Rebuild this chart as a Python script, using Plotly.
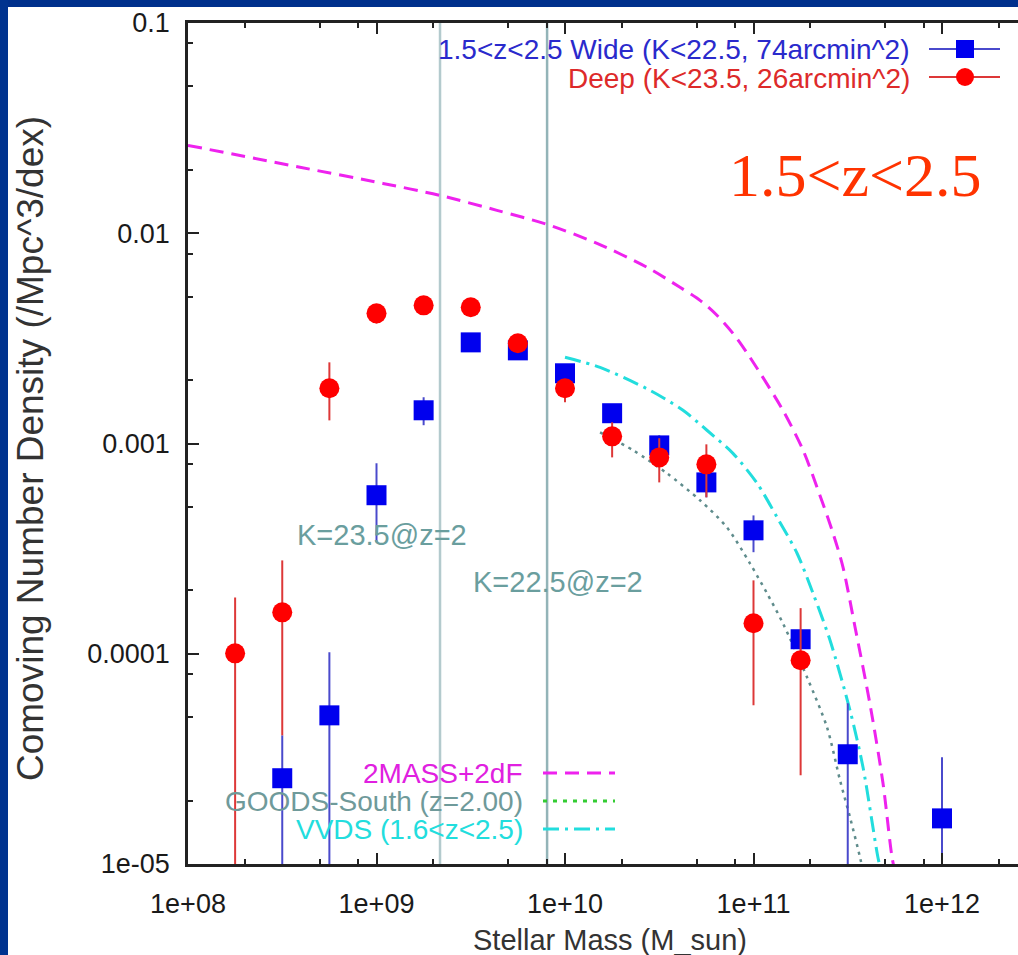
import plotly.graph_objects as go

# ---------------- data (log10 values) ----------------
wide_logm = [8.5, 8.75, 9.0, 9.25, 9.5, 9.75, 10.0, 10.25, 10.5, 10.75, 11.0, 11.25, 11.5, 12.0]
wide_logphi = [-4.592, -4.293, -3.246, -2.842, -2.519, -2.557, -2.666, -2.856, -3.009, -3.185,
               -3.413, -3.931, -4.478, -4.783]
wide_up = [-4.388, -3.993, -3.094, -2.780, -2.500, -2.535, -2.645, -2.830, -2.961, -3.142,
           -3.342, -3.890, -4.236, -4.492]
wide_lo = [-5.6, -5.6, -3.470, -2.913, -2.540, -2.580, -2.690, -2.885, -3.060, -3.256,
           -3.517, -3.980, -5.6, -5.6]

deep_logm = [8.25, 8.5, 8.75, 9.0, 9.25, 9.5, 9.75, 10.0, 10.25, 10.5, 10.75, 11.0, 11.25]
deep_logphi = [-3.998, -3.803, -2.737, -2.381, -2.343, -2.352, -2.523, -2.737, -2.966, -3.066,
               -3.099, -3.855, -4.031]
deep_up = [-3.732, -3.556, -2.614, -2.343, -2.323, -2.332, -2.495, -2.700, -2.899, -2.975,
           -3.004, -3.651, -3.783]
deep_lo = [-5.6, -4.388, -2.890, -2.430, -2.363, -2.372, -2.553, -2.804, -3.066, -3.185,
           -3.256, -4.245, -4.578]

mass2dF_logm = [8.0, 8.594, 9.034, 9.337, 9.639, 9.905, 10.170, 10.435, 10.610, 10.716, 10.806,
                10.891, 10.981, 11.156, 11.263, 11.337, 11.422, 11.475, 11.538, 11.618, 11.687,
                11.735, 11.761]
mass2dF_logphi = [-1.582, -1.686, -1.763, -1.820, -1.891, -1.958, -2.048, -2.162, -2.257, -2.319,
                  -2.390, -2.476, -2.590, -2.842, -3.032, -3.208, -3.427, -3.589, -3.870, -4.240,
                  -4.616, -4.968, -5.080]

vvds_logm = [10.0, 10.186, 10.451, 10.626, 10.753, 10.891, 11.019, 11.125, 11.231, 11.316, 11.406,
             11.512, 11.581, 11.660, 11.682]
vvds_logphi = [-2.590, -2.638, -2.747, -2.842, -2.937, -3.047, -3.189, -3.351, -3.522, -3.713,
               -3.936, -4.269, -4.540, -4.968, -5.054]

goods_logm = [10.186, 10.361, 10.541, 10.716, 10.859, 10.981, 11.072, 11.156, 11.284, 11.390,
              11.459, 11.512, 11.565, 11.586]
goods_logphi = [-2.947, -3.032, -3.142, -3.270, -3.399, -3.570, -3.713, -3.855, -4.112, -4.350,
                -4.602, -4.778, -4.968, -5.054]

klimit_logm = [9.337, 9.905]          # K=23.5@z=2 , K=22.5@z=2
klimit_labels = ["K=23.5@z=2", "K=22.5@z=2"]

xtick_vals = [1e8, 1e9, 1e10, 1e11, 1e12]
xtick_text = ["1e+08", "1e+09", "1e+10", "1e+11", "1e+12"]
ytick_vals = [1e-5, 1e-4, 1e-3, 1e-2, 1e-1]
ytick_text = ["1e-05", "0.0001", "0.001", "0.01", "0.1"]


def lin(v):
    return [10 ** a for a in v]


SANS = "Liberation Sans, Arial, sans-serif"
SERIF = "Liberation Serif, Times New Roman, serif"

# figure geometry (pixels)
W, H = 1018, 955
ML, MR, MT, MB = 188, 0, 23, 91
PW, PH = W - ML - MR, H - MT - MB


def px(x):
    return (x - ML) / PW


def py(y):
    return (H - MB - y) / PH


fig = go.Figure()

# vertical completeness limits
for lm, col in zip(klimit_logm, ["#b3cacd", "#93b4b8"]):
    fig.add_trace(go.Scatter(x=[10 ** lm, 10 ** lm], y=[1e-5, 1e-1], mode="lines",
                             line=dict(color=col, width=2.5), showlegend=False, hoverinfo="skip"))

# model curves
fig.add_trace(go.Scatter(x=lin(mass2dF_logm), y=lin(mass2dF_logphi), mode="lines",
                         line=dict(color="#ee22ee", width=3, dash="14px,8px",
                                   shape="spline", smoothing=0.8), showlegend=False))
fig.add_trace(go.Scatter(x=lin(goods_logm), y=lin(goods_logphi), mode="lines",
                         line=dict(color="#5f8c8c", width=2.5, dash="3px,5px",
                                   shape="spline", smoothing=0.8), showlegend=False))
fig.add_trace(go.Scatter(x=lin(vvds_logm), y=lin(vvds_logphi), mode="lines",
                         line=dict(color="#22dddd", width=3, dash="16px,6px,3px,6px",
                                   shape="spline", smoothing=0.8), showlegend=False))

# data points
wy = lin(wide_logphi)
fig.add_trace(go.Scatter(
    x=lin(wide_logm), y=wy, mode="markers",
    marker=dict(symbol="square", size=20, color="#0000ee"),
    error_y=dict(type="data", symmetric=False,
                 array=[10 ** u - v for u, v in zip(wide_up, wy)],
                 arrayminus=[v - 10 ** l for l, v in zip(wide_lo, wy)],
                 color="#4a4acc", thickness=2, width=0),
    showlegend=False))
dy = lin(deep_logphi)
fig.add_trace(go.Scatter(
    x=lin(deep_logm), y=dy, mode="markers",
    marker=dict(symbol="circle", size=20, color="#ff0000"),
    error_y=dict(type="data", symmetric=False,
                 array=[10 ** u - v for u, v in zip(deep_up, dy)],
                 arrayminus=[v - 10 ** l for l, v in zip(deep_lo, dy)],
                 color="#dd3838", thickness=2, width=0),
    showlegend=False))

minor_x = [m * 10 ** e for e in range(8, 13) for m in (2, 5, 8)]
minor_y = [m * 10 ** e for e in range(-5, -1) for m in (2, 5, 8)]

axis_common = dict(type="log", showline=True, linecolor="#222222", linewidth=2.5,
                   ticks="inside", ticklen=11, tickwidth=2, tickcolor="#222222",
                   showgrid=False, zeroline=False,
                   tickfont=dict(family=SANS, size=27, color="#1a1a1a"))

fig.update_xaxes(**axis_common, range=[8, 8 + PW / 188.5], mirror="ticks",
                 tickvals=xtick_vals, ticktext=xtick_text, ticklabelstandoff=14,
                 minor=dict(tickvals=minor_x, ticks="inside", ticklen=5, tickwidth=2,
                            tickcolor="#222222"))
fig.update_yaxes(**axis_common, range=[-5, -1], mirror=False,
                 tickvals=ytick_vals, ticktext=ytick_text, ticklabelstandoff=10,
                 minor=dict(tickvals=minor_y, ticks="inside", ticklen=5, tickwidth=2,
                            tickcolor="#222222"))

ann = []
# axis titles
ann.append(dict(text="Stellar Mass (M_sun)", xref="paper", yref="paper", x=px(610), y=py(940),
                xanchor="center", yanchor="middle", showarrow=False,
                font=dict(family=SANS, size=29, color="#333333")))
ann.append(dict(text="Comoving Number Density (/Mpc^3/dex)", xref="paper", yref="paper",
                x=px(30), y=py(449), textangle=-90, xanchor="center", yanchor="middle",
                showarrow=False, font=dict(family=SANS, size=37, color="#333333")))
# limit labels
ann.append(dict(text=klimit_labels[0], xref="x", yref="y", x=9.029, y=-3.437, showarrow=False,
                xanchor="center", yanchor="middle", font=dict(family=SANS, size=29, color="#6a9e9e")))
ann.append(dict(text=klimit_labels[1], xref="x", yref="y", x=9.963, y=-3.660, showarrow=False,
                xanchor="center", yanchor="middle", font=dict(family=SANS, size=29, color="#6a9e9e")))
# big redshift label
ann.append(dict(text="1.5&lt;z&lt;2.5", xref="paper", yref="paper", x=px(855), y=py(175),
                xanchor="center", yanchor="middle", showarrow=False,
                font=dict(family=SERIF, size=62, color="#ff3300")))
# legend texts
leg_top = [("1.5&lt;z&lt;2.5 Wide (K&lt;22.5, 74arcmin^2)", "#2a2acc", 50),
           ("Deep (K&lt;23.5, 26arcmin^2)", "#dd2a2a", 78)]
for t, c, yy in leg_top:
    ann.append(dict(text=t, xref="paper", yref="paper", x=px(912), y=py(yy), xanchor="right",
                    yanchor="middle", showarrow=False, font=dict(family=SANS, size=28, color=c)))
leg_bot = [("2MASS+2dF", "#e020e0", 773), ("GOODS-South (z=2.00)", "#6f9a9a", 801),
           ("VVDS (1.6&lt;z&lt;2.5)", "#22dddd", 829)]
for t, c, yy in leg_bot:
    ann.append(dict(text=t, xref="paper", yref="paper", x=px(525), y=py(yy), xanchor="right",
                    yanchor="middle", showarrow=False, font=dict(family=SANS, size=28, color=c)))

shapes = []
# legend samples (top right)
shapes.append(dict(type="line", xref="paper", yref="paper", x0=px(929), x1=px(1000), y0=py(49), y1=py(49),
                   line=dict(color="#4a4acc", width=2)))
shapes.append(dict(type="rect", xref="paper", yref="paper", x0=px(956), x1=px(974), y0=py(58), y1=py(40),
                   fillcolor="#0000ee", line=dict(width=0)))
shapes.append(dict(type="line", xref="paper", yref="paper", x0=px(929), x1=px(1000), y0=py(77), y1=py(77),
                   line=dict(color="#dd3838", width=2)))
shapes.append(dict(type="circle", xref="paper", yref="paper", x0=px(956), x1=px(974), y0=py(86), y1=py(68),
                   fillcolor="#ff0000", line=dict(width=0)))
# legend samples (bottom)
shapes.append(dict(type="line", xref="paper", yref="paper", x0=px(543), x1=px(615), y0=py(773), y1=py(773),
                   line=dict(color="#ee22ee", width=3, dash="14px,8px")))
shapes.append(dict(type="line", xref="paper", yref="paper", x0=px(543), x1=px(615), y0=py(801), y1=py(801),
                   line=dict(color="#33cc33", width=3, dash="4px,6px")))
shapes.append(dict(type="line", xref="paper", yref="paper", x0=px(543), x1=px(615), y0=py(829), y1=py(829),
                   line=dict(color="#22dddd", width=3, dash="16px,6px,3px,6px")))
# blue frame
shapes.append(dict(type="rect", xref="paper", yref="paper", x0=px(-20), x1=px(W + 20), y0=py(7), y1=py(-20),
                   fillcolor="#00308c", line=dict(width=0), layer="above"))
shapes.append(dict(type="rect", xref="paper", yref="paper", x0=px(-20), x1=px(8), y0=py(H + 20), y1=py(-20),
                   fillcolor="#00338f", line=dict(width=0), layer="above"))

fig.update_layout(width=W, height=H, autosize=False,
                  margin=dict(l=ML, r=MR, t=MT, b=MB, pad=0),
                  paper_bgcolor="white", plot_bgcolor="white",
                  annotations=ann, shapes=shapes, showlegend=False)

fig.write_html("out.html")
